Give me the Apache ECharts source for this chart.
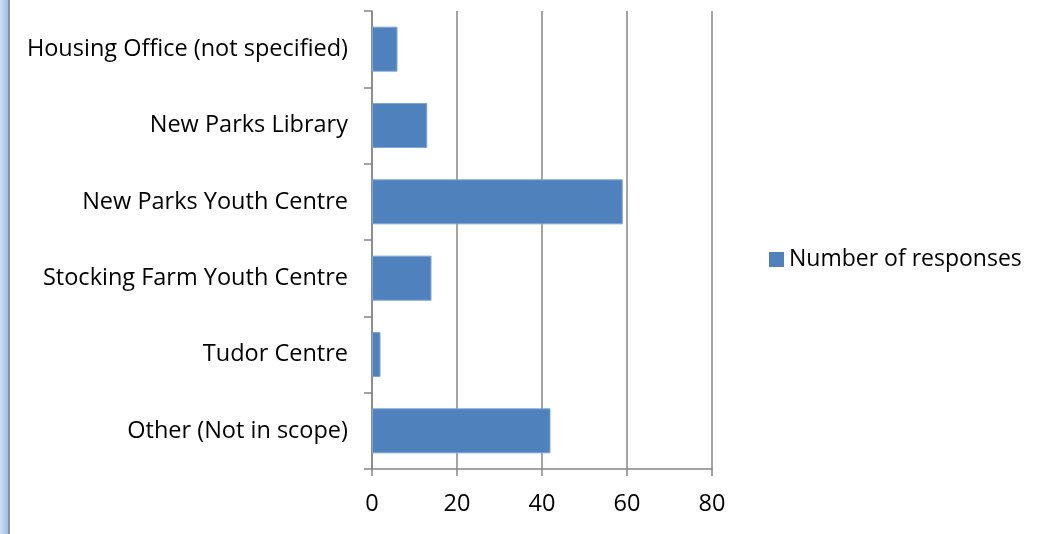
<!DOCTYPE html>
<html>
<head>
<meta charset="utf-8">
<script src="https://cdn.jsdelivr.net/npm/echarts@6/dist/echarts.min.js"></script>
<style>
html,body{margin:0;padding:0;background:#fff;}
#chart{width:1039px;height:534px;}
</style>
</head>
<body>
<div id="chart"></div>
<script>
const categories = ["Housing Office (not specified)", "New Parks Library", "New Parks Youth Centre", "Stocking Farm Youth Centre", "Tudor Centre", "Other (Not in scope)"];
const responses = [6, 13, 59, 14, 2, 42];
const seriesName = "Number of responses";
const xTicks = [0, 20, 40, 60, 80];

const FONT = "Open Sans";
const FS = 23.5;
const chart = echarts.init(document.getElementById('chart'), null, {renderer: 'canvas'});
chart.setOption({
  animation: false,
  backgroundColor: '#fff',
  textStyle: {fontFamily: FONT},
  graphic: [{
    type: 'rect', left: 0, top: 0,
    shape: {width: 8, height: 534},
    style: {fill: new echarts.graphic.LinearGradient(0, 0, 1, 0, [{offset: 0, color: '#cfe0f7'}, {offset: 1, color: '#9dbde8'}])}
  }, {
    type: 'rect', left: 8, top: 0,
    shape: {width: 2, height: 534},
    style: {fill: '#8a8f99'}
  }],
  legend: {
    data: [seriesName],
    left: 769, top: 248, padding: 0,
    itemWidth: 15, itemHeight: 15, itemGap: 6,
    icon: 'rect',
    itemStyle: {borderWidth: 0},
    textStyle: {fontFamily: FONT, fontSize: 23, color: '#000'}
  },
  grid: {left: 372, right: 327, top: 11, bottom: 65, containLabel: false},
  xAxis: {
    type: 'value', min: xTicks[0], max: xTicks[xTicks.length - 1], interval: 20,
    axisLine: {show: true, lineStyle: {color: '#868686', width: 1.5}},
    axisTick: {show: true, length: 7, lineStyle: {color: '#868686', width: 1.5}},
    axisLabel: {color: '#000', fontSize: FS, fontFamily: FONT, margin: 23},
    splitLine: {show: true, lineStyle: {color: '#868686', width: 1.5}}
  },
  yAxis: {
    type: 'category', data: categories, inverse: true,
    axisLine: {show: true, lineStyle: {color: '#868686', width: 1.5}},
    axisTick: {show: true, length: 8, lineStyle: {color: '#868686', width: 1.5}},
    axisLabel: {color: '#000', fontSize: FS, fontFamily: FONT, margin: 24}
  },
  series: [{
    name: seriesName, type: 'bar', data: responses,
    barCategoryGap: '41%',
    itemStyle: {color: '#4F81BD', borderColor: '#7ea6d6', borderWidth: 1}
  }]
});
</script>
</body>
</html>
